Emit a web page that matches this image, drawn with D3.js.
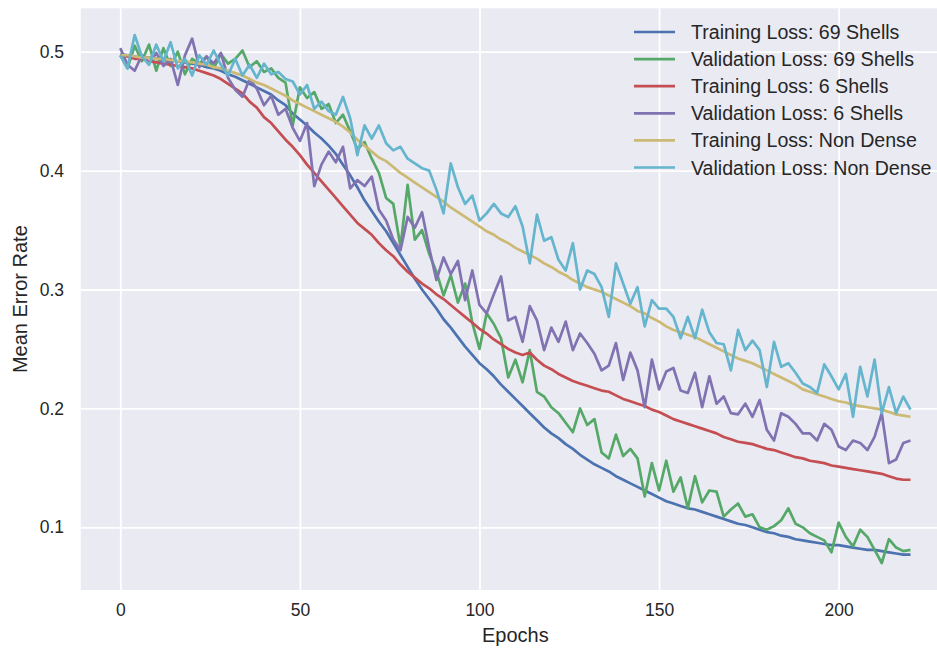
<!DOCTYPE html>
<meta charset="utf-8">
<script src="https://cdn.jsdelivr.net/npm/d3@7"></script>
<style>
  body { margin: 0; background: #fff; }
  text { font-family: "Liberation Sans", Arial, sans-serif; fill: #262626; }
</style>
<div id="chart"></div>
<script>

// epochs sampled every 2
var epochs = d3.range(0, 221, 2);

var trainLoss69 = [
  0.498,0.497,0.496,0.495,0.495,0.494,0.493,0.493,0.492,0.491,
  0.490,0.489,0.487,0.486,0.484,0.481,0.479,0.476,0.473,0.470,
  0.467,0.464,0.459,0.455,0.448,0.443,0.438,0.432,0.427,0.421,
  0.414,0.405,0.396,0.386,0.375,0.366,0.357,0.349,0.339,0.329,
  0.319,0.309,0.300,0.292,0.284,0.275,0.268,0.260,0.252,0.245,
  0.238,0.233,0.227,0.220,0.214,0.208,0.202,0.196,0.190,0.184,
  0.179,0.175,0.170,0.166,0.161,0.157,0.153,0.150,0.147,0.143,
  0.140,0.137,0.134,0.131,0.128,0.125,0.122,0.120,0.118,0.116,
  0.115,0.113,0.111,0.109,0.107,0.105,0.103,0.102,0.100,0.098,
  0.096,0.095,0.093,0.092,0.090,0.089,0.088,0.087,0.086,0.085,
  0.085,0.084,0.083,0.082,0.081,0.081,0.080,0.079,0.078,0.077,
  0.077
];

var valLoss69 = [
  0.497,0.486,0.505,0.492,0.506,0.484,0.503,0.488,0.500,0.481,
  0.494,0.490,0.496,0.486,0.498,0.490,0.494,0.501,0.487,0.492,
  0.483,0.486,0.478,0.474,0.438,0.470,0.461,0.466,0.452,0.456,
  0.440,0.447,0.433,0.418,0.424,0.410,0.398,0.377,0.372,0.336,
  0.388,0.342,0.350,0.330,0.315,0.295,0.312,0.289,0.305,0.272,
  0.250,0.280,0.271,0.259,0.226,0.241,0.222,0.249,0.214,0.210,
  0.201,0.196,0.188,0.180,0.200,0.186,0.191,0.163,0.158,0.178,
  0.160,0.166,0.158,0.126,0.154,0.131,0.156,0.130,0.142,0.116,
  0.143,0.121,0.131,0.130,0.109,0.115,0.120,0.109,0.111,0.100,
  0.098,0.101,0.106,0.116,0.103,0.100,0.095,0.092,0.089,0.079,
  0.104,0.092,0.084,0.098,0.092,0.081,0.070,0.090,0.083,0.080,
  0.081
];

var trainLoss6 = [
  0.497,0.496,0.494,0.494,0.492,0.491,0.490,0.489,0.488,0.487,
  0.486,0.484,0.482,0.480,0.477,0.473,0.469,0.465,0.458,0.453,
  0.445,0.440,0.433,0.426,0.420,0.413,0.405,0.398,0.391,0.384,
  0.377,0.370,0.363,0.356,0.351,0.346,0.339,0.333,0.328,0.321,
  0.315,0.310,0.305,0.301,0.296,0.292,0.287,0.282,0.277,0.272,
  0.267,0.263,0.258,0.254,0.250,0.247,0.245,0.247,0.241,0.236,
  0.233,0.229,0.226,0.223,0.221,0.219,0.217,0.215,0.214,0.211,
  0.208,0.206,0.204,0.202,0.199,0.197,0.194,0.191,0.189,0.187,
  0.185,0.183,0.181,0.179,0.176,0.174,0.172,0.171,0.170,0.168,
  0.166,0.165,0.163,0.161,0.159,0.158,0.156,0.155,0.154,0.152,
  0.151,0.150,0.149,0.148,0.147,0.146,0.145,0.143,0.141,0.140,
  0.140
];

var valLoss6 = [
  0.503,0.489,0.484,0.497,0.490,0.499,0.488,0.494,0.472,0.497,
  0.511,0.487,0.496,0.490,0.499,0.478,0.468,0.462,0.477,0.469,
  0.455,0.463,0.447,0.452,0.436,0.425,0.440,0.387,0.405,0.416,
  0.407,0.420,0.385,0.392,0.387,0.395,0.367,0.358,0.342,0.333,
  0.361,0.352,0.365,0.335,0.308,0.327,0.313,0.324,0.291,0.316,
  0.287,0.280,0.296,0.311,0.274,0.277,0.256,0.286,0.274,0.249,
  0.268,0.256,0.273,0.249,0.263,0.255,0.246,0.232,0.236,0.255,
  0.224,0.247,0.232,0.201,0.241,0.216,0.231,0.234,0.215,0.213,
  0.230,0.201,0.227,0.204,0.210,0.196,0.195,0.204,0.193,0.207,
  0.182,0.173,0.196,0.193,0.187,0.179,0.179,0.173,0.187,0.182,
  0.168,0.165,0.173,0.171,0.165,0.176,0.196,0.154,0.157,0.171,
  0.173
];

var trainLossNonDense = [
  0.497,0.497,0.496,0.495,0.495,0.494,0.494,0.493,0.492,0.492,
  0.491,0.490,0.489,0.487,0.486,0.484,0.482,0.480,0.477,0.474,
  0.472,0.469,0.466,0.463,0.459,0.456,0.453,0.450,0.447,0.444,
  0.441,0.437,0.432,0.426,0.421,0.416,0.411,0.408,0.403,0.398,
  0.394,0.390,0.386,0.382,0.378,0.374,0.369,0.365,0.361,0.357,
  0.353,0.349,0.346,0.342,0.339,0.335,0.332,0.329,0.326,0.322,
  0.319,0.315,0.312,0.308,0.305,0.302,0.300,0.298,0.295,0.292,
  0.289,0.286,0.282,0.280,0.276,0.273,0.269,0.266,0.264,0.262,
  0.260,0.257,0.254,0.251,0.248,0.245,0.242,0.240,0.238,0.235,
  0.232,0.229,0.226,0.223,0.220,0.216,0.214,0.212,0.210,0.208,
  0.206,0.205,0.203,0.202,0.201,0.200,0.199,0.197,0.195,0.194,
  0.193
];

var valLossNonDense = [
  0.497,0.486,0.514,0.496,0.489,0.506,0.492,0.508,0.486,0.494,
  0.480,0.497,0.489,0.501,0.489,0.480,0.494,0.480,0.489,0.478,
  0.490,0.481,0.483,0.477,0.475,0.464,0.472,0.452,0.458,0.450,
  0.447,0.462,0.444,0.413,0.438,0.427,0.438,0.423,0.417,0.420,
  0.410,0.406,0.402,0.400,0.384,0.364,0.406,0.386,0.372,0.379,
  0.358,0.364,0.372,0.364,0.361,0.370,0.353,0.322,0.363,0.341,
  0.344,0.325,0.316,0.339,0.300,0.316,0.313,0.302,0.277,0.322,
  0.305,0.288,0.302,0.269,0.291,0.284,0.284,0.277,0.259,0.277,
  0.259,0.283,0.264,0.255,0.254,0.232,0.266,0.249,0.257,0.249,
  0.218,0.256,0.235,0.238,0.230,0.221,0.218,0.213,0.237,0.227,
  0.216,0.229,0.193,0.235,0.210,0.241,0.196,0.218,0.196,0.210,
  0.199
];

var xTicks = [0, 50, 100, 150, 200];
var yTicks = [0.1, 0.2, 0.3, 0.4, 0.5];

var series = [
  {name: "Training Loss: 69 Shells",   values: trainLoss69,       color: "#4C72B0"},
  {name: "Validation Loss: 69 Shells", values: valLoss69,         color: "#55A868"},
  {name: "Training Loss: 6 Shells",    values: trainLoss6,        color: "#C44E52"},
  {name: "Validation Loss: 6 Shells",  values: valLoss6,          color: "#8172B2"},
  {name: "Training Loss: Non Dense",   values: trainLossNonDense, color: "#CCB974"},
  {name: "Validation Loss: Non Dense", values: valLossNonDense,   color: "#64B5CD"}
];

// plot box (right side runs past the window like the original)
var plotLeft = 80.8, plotTop = 8.3, plotRight = 950, plotBottom = 590;

var svg = d3.select("#chart")
  .append("svg")
    .attr("width", 937)
    .attr("height", 649);

svg.append("rect")
  .attr("x", plotLeft)
  .attr("y", plotTop)
  .attr("width", plotRight - plotLeft)
  .attr("height", plotBottom - plotTop)
  .attr("fill", "#EAEAF2");

var x = d3.scaleLinear().domain([-11, 231]).range([plotLeft, plotRight]);
var y = d3.scaleLinear().domain([0.0473, 0.5365]).range([plotBottom, plotTop]);

// axes with white grid lines
var xAxis = svg.append("g")
  .attr("transform", "translate(0," + plotBottom + ")")
  .call(d3.axisBottom(x).tickValues(xTicks).tickSize(-(plotBottom - plotTop)).tickPadding(13.6));

var yAxis = svg.append("g")
  .attr("transform", "translate(" + plotLeft + ",0)")
  .call(d3.axisLeft(y).tickValues(yTicks).tickFormat(d3.format(".1f")).tickSize(-(plotRight - plotLeft)).tickPadding(16.8));

[xAxis, yAxis].forEach(function(a) {
  a.select(".domain").remove();
  a.selectAll(".tick line").attr("stroke", "#fff").attr("stroke-width", 1.8);
  a.selectAll(".tick text").attr("font-size", 17.5).attr("fill", "#262626")
    .style("font-family", "'Liberation Sans', Arial, sans-serif");
});

svg.append("clipPath").attr("id", "clip")
  .append("rect")
    .attr("x", plotLeft).attr("y", plotTop)
    .attr("width", plotRight - plotLeft).attr("height", plotBottom - plotTop);

var line = d3.line()
  .x(function(d, i) { return x(epochs[i]); })
  .y(function(d) { return y(d); });

svg.append("g")
  .attr("clip-path", "url(#clip)")
  .selectAll("path")
  .data(series)
  .enter()
  .append("path")
    .attr("d", function(d) { return line(d.values); })
    .attr("fill", "none")
    .attr("stroke", function(d) { return d.color; })
    .attr("stroke-width", 2.7)
    .attr("stroke-linejoin", "round")
    .attr("stroke-linecap", "butt");

// axis labels
svg.append("text")
  .attr("x", (plotLeft + plotRight) / 2)
  .attr("y", 642)
  .attr("text-anchor", "middle")
  .attr("font-size", 20)
  .text("Epochs");

svg.append("text")
  .attr("transform", "translate(26.5," + ((plotTop + plotBottom) / 2) + ") rotate(-90)")
  .attr("text-anchor", "middle")
  .attr("font-size", 20)
  .text("Mean Error Rate");

// legend, no frame
var legend = svg.append("g")
  .selectAll("g")
  .data(series)
  .enter()
  .append("g")
    .attr("transform", function(d, i) { return "translate(634," + (32 + i * 27.1) + ")"; });

legend.append("line")
  .attr("x1", 0).attr("x2", 41)
  .attr("stroke", function(d) { return d.color; })
  .attr("stroke-width", 2.7);

legend.append("text")
  .attr("x", 57)
  .attr("dy", "0.36em")
  .attr("font-size", 19.6)
  .text(function(d) { return d.name; });

</script>
